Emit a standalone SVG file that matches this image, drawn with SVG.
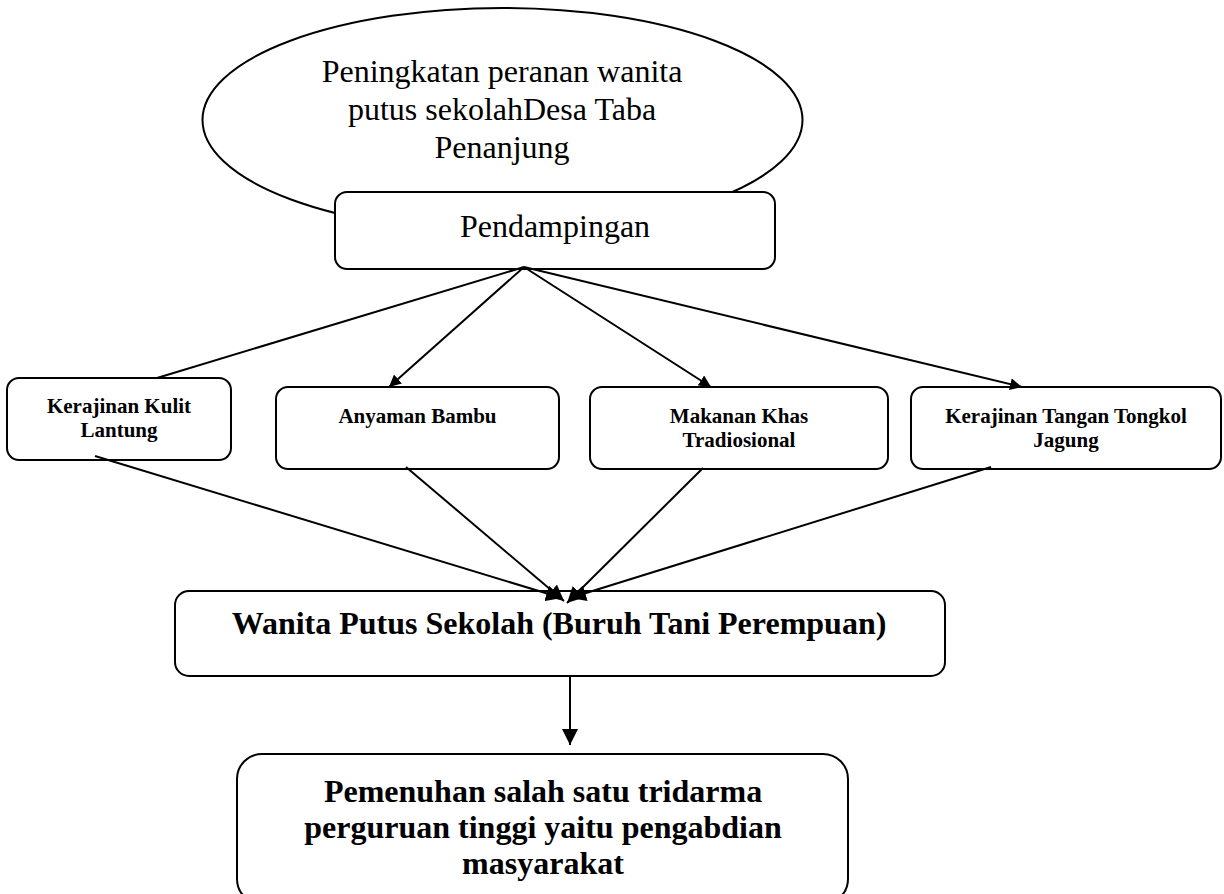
<svg xmlns="http://www.w3.org/2000/svg" width="1224" height="894" viewBox="0 0 1224 894">
<style>
.box{fill:#fff;stroke:#000;stroke-width:2}
.reg{font-family:"Liberation Serif","Times New Roman",serif;font-size:32px;fill:#000;text-anchor:middle}
.bold32{font-family:"Liberation Serif","Times New Roman",serif;font-size:32px;font-weight:bold;fill:#000;text-anchor:middle}
.bold21{font-family:"Liberation Serif","Times New Roman",serif;font-size:21px;font-weight:bold;fill:#000;text-anchor:middle}
.conn{fill:none;stroke:#000;stroke-width:2}
</style>
<defs>
<marker id="ah-s" markerUnits="userSpaceOnUse" markerWidth="12" markerHeight="12" viewBox="0 0 12 12" refX="12" refY="6" orient="auto">
<path d="M0,0 L12,6 L0,12 Z" fill="#000"/>
</marker>
<marker id="ah-m" markerUnits="userSpaceOnUse" markerWidth="16" markerHeight="16" viewBox="0 0 16 16" refX="16" refY="8" orient="auto">
<path d="M0,0 L16,8 L0,16 Z" fill="#000"/>
</marker>
<marker id="ah-l" markerUnits="userSpaceOnUse" markerWidth="16" markerHeight="16" viewBox="0 0 16 16" refX="16" refY="8" orient="auto">
<path d="M0,0 L16,8 L0,16 Z" fill="#000"/>
</marker>
</defs>
<rect width="1224" height="894" fill="#fff"/>

<g id="node-peningkatan">
<ellipse class="box" cx="502.5" cy="120" rx="300" ry="112"/>
<text class="reg" x="502" y="82">Peningkatan peranan wanita</text>
<text class="reg" x="502" y="120">putus sekolahDesa Taba</text>
<text class="reg" x="502" y="158">Penanjung</text>
</g>

<g id="node-pendampingan">
<rect class="box" x="335" y="192" width="440" height="77" rx="12"/>
<text class="reg" x="555" y="237">Pendampingan</text>
</g>

<g id="node-kulit">
<rect class="box" x="7" y="378" width="224" height="82" rx="12"/>
<text class="bold21" x="119" y="413">Kerajinan Kulit</text>
<text class="bold21" x="119" y="437">Lantung</text>
</g>

<g id="node-anyaman">
<rect class="box" x="276" y="387" width="283" height="82" rx="12"/>
<text class="bold21" x="417.5" y="423">Anyaman Bambu</text>
</g>

<g id="node-makanan">
<rect class="box" x="590" y="387" width="298" height="82" rx="12"/>
<text class="bold21" x="739" y="423">Makanan Khas</text>
<text class="bold21" x="739" y="447">Tradiosional</text>
</g>

<g id="node-tongkol">
<rect class="box" x="911" y="387" width="310" height="82" rx="12"/>
<text class="bold21" x="1066" y="423">Kerajinan Tangan Tongkol</text>
<text class="bold21" x="1066" y="447">Jagung</text>
</g>

<g id="connectors">
<line class="conn" x1="524" y1="267" x2="157" y2="378"/>
<line class="conn" x1="524" y1="267" x2="389" y2="387" marker-end="url(#ah-s)"/>
<line class="conn" x1="524" y1="267" x2="711" y2="387" marker-end="url(#ah-s)"/>
<line class="conn" x1="524" y1="267" x2="1022" y2="387" marker-end="url(#ah-s)"/>
<line class="conn" x1="95" y1="456" x2="562" y2="598" marker-end="url(#ah-m)"/>
<line class="conn" x1="406" y1="467" x2="564" y2="601" marker-end="url(#ah-m)"/>
<line class="conn" x1="703" y1="468" x2="567" y2="603" marker-end="url(#ah-m)"/>
<line class="conn" x1="991" y1="467" x2="570" y2="598" marker-end="url(#ah-m)"/>
<line class="conn" x1="570" y1="676" x2="570" y2="745" marker-end="url(#ah-l)"/>
</g>

<g id="node-wanita">
<rect class="box" x="175" y="591" width="770" height="85" rx="14" style="fill:none"/>
<text class="bold32" x="559" y="634">Wanita Putus Sekolah (Buruh Tani Perempuan)</text>
</g>

<g id="node-pemenuhan">
<rect class="box" x="237" y="754" width="611" height="150" rx="25"/>
<text class="bold32" x="543" y="802">Pemenuhan salah satu tridarma</text>
<text class="bold32" x="543" y="838">perguruan tinggi yaitu pengabdian</text>
<text class="bold32" x="543" y="874">masyarakat</text>
</g>
</svg>
